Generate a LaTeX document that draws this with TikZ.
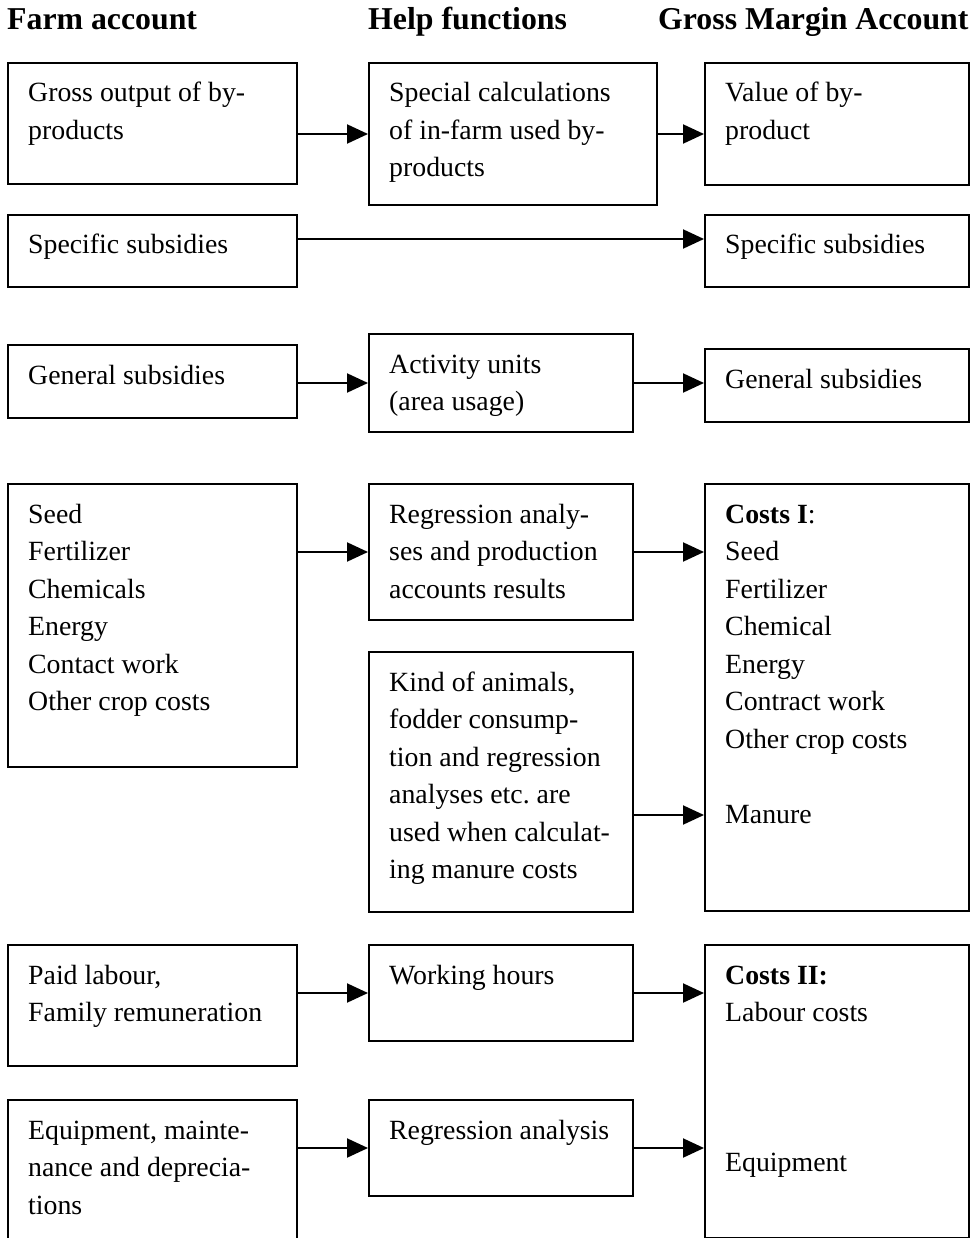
\documentclass[tikz,border=0pt]{standalone}
\usepackage{fontspec}
\setmainfont{Liberation Serif}
\usetikzlibrary{arrows.meta,calc}
\frenchspacing

\newcommand\bodyfont{\fontsize{27.8}{37.5}\selectfont}
\newcommand\headfont{\fontsize{31.8}{38}\selectfont\bfseries}

% \cell{name}{x}{y}{width}{height}{lines}: framed box with its text block
\newcommand\cell[6]{%
  \node[box, minimum width=#4pt, minimum height=#5pt] (#1) at (#2,#3) {};
  \node[txt] (#1-t) at ([shift={(21pt,-40pt)}]#1.north west)
    {\parbox[t]{300pt}{\bodyfont #6}};
}

\begin{document}
\begin{tikzpicture}[x=1pt,y=-1pt,
  box/.style={draw, line width=2pt, inner sep=0pt, anchor=north west},
  txt/.style={inner sep=0pt, anchor=base west},
  head/.style={inner sep=0pt, anchor=base west, font=\headfont},
  arr/.style={line width=2pt, -{Triangle[length=21pt,width=19pt]}}]
\useasboundingbox (0,0) rectangle (978,1238);

% column headings
\node[head] (hfarm) at (7,30) {Farm account};
\node[head] (hhelp) at (368,30) {Help functions};
\node[head] (hgm)   at (658,30) {Gross Margin Account};

% by-products
\cell{gross}{7}{62}{289}{121}{Gross output of by-\\products}
\cell{special}{368}{62}{288}{142}{Special calculations\\of in-farm used by-\\products}
\cell{value}{704}{62}{264}{122}{Value of by-\\product}

% subsidies
\cell{specL}{7}{214}{289}{72}{Specific subsidies}
\cell{specR}{704}{214}{264}{72}{Specific subsidies}
\cell{genL}{7}{344}{289}{73}{General subsidies}
\cell{act}{368}{333}{264}{98}{Activity units\\(area usage)}
\cell{genR}{704}{348}{264}{73}{General subsidies}

% costs I
\cell{crop}{7}{483}{289}{283}{Seed\\Fertilizer\\Chemicals\\Energy\\Contact work\\Other crop costs}
\cell{regr}{368}{483}{264}{136}{Regression analy-\\ses and production\\accounts results}
\cell{costsI}{704}{483}{264}{427}{\textbf{Costs I}:\\Seed\\Fertilizer\\Chemical\\Energy\\Contract work\\Other crop costs\\\mbox{}\\Manure}
\cell{animals}{368}{651}{264}{260}{Kind of animals,\\fodder consump-\\tion and regression\\analyses etc. are\\used when calculat-\\ing manure costs}

% costs II
\cell{labour}{7}{944}{289}{121}{Paid labour,\\Family remuneration}
\cell{hours}{368}{944}{264}{96}{Working hours}
\cell{costsII}{704}{944}{264}{293}{\textbf{Costs II:}\\Labour costs\\\mbox{}\\\mbox{}\\\mbox{}\\Equipment}
\cell{equip}{7}{1099}{289}{170}{Equipment, mainte-\\nance and deprecia-\\tions}
\cell{regan}{368}{1099}{264}{96}{Regression analysis}

% connectors
\draw[arr] (gross.east |- special.west) -- (special.west);
\draw[arr] (special.east) -- (value.west |- special.east);
\draw[arr] ([yshift=12pt]specL.east) -- ([yshift=12pt]specR.west);
\draw[arr] (genL.east |- act.west) -- (act.west);
\draw[arr] (act.east) -- (genR.west |- act.east);
\draw[arr] (crop.east |- regr.west) -- (regr.west);
\draw[arr] (regr.east) -- (costsI.west |- regr.east);
\coordinate (manureIn) at ([yshift=-33pt]animals.east);
\draw[arr] (manureIn) -- (manureIn -| costsI.west);
\draw[arr] (labour.east |- hours.west) -- (hours.west);
\draw[arr] (hours.east) -- (costsII.west |- hours.east);
\draw[arr] (equip.east |- regan.west) -- (regan.west);
\draw[arr] (regan.east) -- (costsII.west |- regan.east);
\end{tikzpicture}
\end{document}
